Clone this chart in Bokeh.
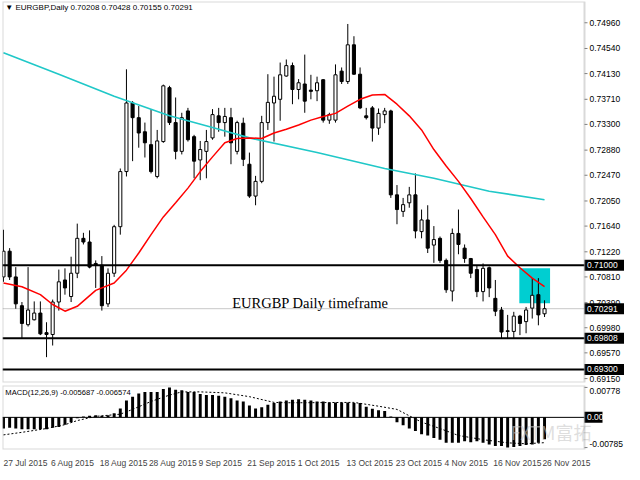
from bokeh.plotting import figure
from bokeh.models import (Range1d, FixedTicker, CustomJSTickFormatter, Label,
                          BoxAnnotation, ColumnDataSource)
from bokeh.layouts import column
from bokeh.embed import file_html
from bokeh.resources import INLINE
from bokeh.core.properties import value

# ---------------- data ----------------
opens = [0.7081, 0.7123, 0.7081, 0.7034, 0.7003, 0.7011, 0.7022, 0.6990, 0.6987, 0.7040,
         0.7076, 0.7049, 0.7087, 0.7144, 0.7138, 0.7103, 0.7100, 0.7037, 0.7087, 0.7163,
         0.7253, 0.7365, 0.7341, 0.7318, 0.7297, 0.7245, 0.7302, 0.7390, 0.7333, 0.7286,
         0.7352, 0.7310, 0.7272, 0.7286, 0.7308, 0.7344, 0.7333, 0.7341, 0.7286, 0.7332,
         0.7265, 0.7213, 0.7237, 0.7333, 0.7365, 0.7371, 0.7409, 0.7426, 0.7387, 0.7396,
         0.7386, 0.7385, 0.7403, 0.7337, 0.7337, 0.7417, 0.7400, 0.7460, 0.7412, 0.7344,
         0.7357, 0.7324, 0.7346, 0.7352, 0.7215, 0.7188, 0.7202, 0.7215, 0.7155, 0.7174,
         0.7133, 0.7144, 0.7108, 0.7058, 0.7152, 0.7128, 0.7111, 0.7093, 0.7057, 0.7096,
         0.7046, 0.7027, 0.6993, 0.6992, 0.7017, 0.7008, 0.7030, 0.7052, 0.70208]
highs = [0.7158, 0.7128, 0.7097, 0.7040, 0.7097, 0.7041, 0.7041, 0.7007, 0.7044, 0.7093,
         0.7095, 0.7114, 0.7168, 0.7153, 0.7157, 0.7108, 0.7115, 0.7095, 0.7166, 0.7258,
         0.7420, 0.7368, 0.7360, 0.7333, 0.7355, 0.7321, 0.7395, 0.7393, 0.7374, 0.7349,
         0.7357, 0.7313, 0.7303, 0.7321, 0.7355, 0.7357, 0.7357, 0.7357, 0.7336, 0.7341,
         0.7284, 0.7246, 0.7344, 0.7412, 0.7408, 0.7431, 0.7436, 0.7431, 0.7404, 0.7444,
         0.7411, 0.7408, 0.7404, 0.7349, 0.7428, 0.7423, 0.7494, 0.7474, 0.7423, 0.7357,
         0.7360, 0.7356, 0.7357, 0.7354, 0.7231, 0.7210, 0.7228, 0.7250, 0.7191, 0.7198,
         0.7164, 0.7147, 0.7111, 0.7160, 0.7191, 0.7134, 0.7112, 0.7100, 0.7103, 0.7098,
         0.7076, 0.7032, 0.7019, 0.7024, 0.7019, 0.7032, 0.7079, 0.7079, 0.70428]
lows = [0.7073, 0.7076, 0.7029, 0.6981, 0.7000, 0.7010, 0.6986, 0.6950, 0.6969, 0.7026,
        0.7052, 0.7040, 0.7079, 0.7134, 0.7095, 0.7063, 0.7026, 0.7032, 0.7081, 0.7150,
        0.7245, 0.7270, 0.7292, 0.7276, 0.7250, 0.7242, 0.7300, 0.7329, 0.7273, 0.7281,
        0.7302, 0.7242, 0.7239, 0.7242, 0.7305, 0.7318, 0.7310, 0.7265, 0.7281, 0.7262,
        0.7210, 0.7198, 0.7234, 0.7321, 0.7302, 0.7336, 0.7408, 0.7363, 0.7371, 0.7349,
        0.7371, 0.7368, 0.7333, 0.7331, 0.7333, 0.7396, 0.7396, 0.7411, 0.7355, 0.7338,
        0.7302, 0.7313, 0.7332, 0.7210, 0.7167, 0.7179, 0.7194, 0.7144, 0.7144, 0.7120,
        0.7104, 0.7104, 0.7055, 0.7041, 0.7118, 0.7104, 0.7079, 0.7048, 0.7041, 0.7048,
        0.7017, 0.6981, 0.6981, 0.6981, 0.6986, 0.6989, 0.7013, 0.7002, 0.70155]
closes = [0.7123, 0.7081, 0.7037, 0.7005, 0.7027, 0.7022, 0.6988, 0.6987, 0.7040, 0.7073,
          0.7063, 0.7087, 0.7144, 0.7138, 0.7097, 0.7100, 0.7034, 0.7087, 0.7163, 0.7253,
          0.7365, 0.7341, 0.7316, 0.7300, 0.7253, 0.7303, 0.7393, 0.7333, 0.7286, 0.7341,
          0.7305, 0.7270, 0.7289, 0.7302, 0.7346, 0.7333, 0.7343, 0.7300, 0.7333, 0.7273,
          0.7213, 0.7237, 0.7333, 0.7366, 0.7376, 0.7411, 0.7426, 0.7387, 0.7398, 0.7368,
          0.7384, 0.7398, 0.7337, 0.7346, 0.7411, 0.7400, 0.7460, 0.7412, 0.7357, 0.7341,
          0.7324, 0.7348, 0.7352, 0.7215, 0.7191, 0.7199, 0.7215, 0.7156, 0.7174, 0.7128,
          0.7142, 0.7108, 0.7060, 0.7152, 0.7134, 0.7111, 0.7087, 0.7057, 0.7095, 0.7063,
          0.7025, 0.6991, 0.6992, 0.7017, 0.7005, 0.7027, 0.7051, 0.7019, 0.70291]

date_bar_index = [0, 8, 16, 24, 32, 40, 48, 56, 64, 72, 80, 88]
date_labels = ["27 Jul 2015", "6 Aug 2015", "18 Aug 2015", "28 Aug 2015", "9 Sep 2015",
               "21 Sep 2015", "1 Oct 2015", "13 Oct 2015", "23 Oct 2015", "4 Nov 2015",
               "16 Nov 2015", "26 Nov 2015"]

# red (fast) moving average, read at selected bars
red_idx = [0, 3, 6, 8, 10, 12, 15, 18, 20, 22, 24, 26, 28, 30, 32, 34, 36, 38, 40, 42, 44,
           46, 48, 50, 52, 54, 56, 58, 60, 62, 64, 66, 68, 70, 72, 74, 76, 78, 80, 82, 84, 86, 88]
red_val = [0.7071, 0.7065, 0.7052, 0.7036, 0.7025, 0.7033, 0.7059, 0.7071, 0.7092, 0.7120,
           0.7150, 0.7179, 0.7202, 0.7226, 0.7253, 0.7277, 0.7300, 0.7307, 0.7308, 0.7307,
           0.7316, 0.7322, 0.7329, 0.7337, 0.7343, 0.7348, 0.7360, 0.7371, 0.7378, 0.7379,
           0.7363, 0.7344, 0.7321, 0.7289, 0.7262, 0.7237, 0.7209, 0.7179, 0.7150, 0.7115,
           0.7096, 0.7079, 0.7065]

# cyan (slow) moving average
cyan_idx = [0, 9, 18, 27, 34, 40, 51, 62, 70, 79, 88]
cyan_val = [0.7447, 0.7412, 0.7376, 0.7344, 0.7325, 0.7308, 0.7284, 0.7258, 0.7242, 0.7221, 0.7207]

price_ticks = [0.74960, 0.74540, 0.74130, 0.73710, 0.73300, 0.72880, 0.72470, 0.72050,
               0.71640, 0.71220, 0.70810, 0.70390, 0.69980, 0.69570, 0.69150]
level_lines = [0.71000, 0.69808, 0.69300]
bid_price = 0.70291
zone = dict(left=83.9, right=88.9, top=0.7095, bottom=0.7038)

macd_hist = [-0.00290, -0.00273, -0.00290, -0.00306, -0.00306, -0.00306, -0.00306, -0.00306,
             -0.00273, -0.00248, -0.00190, -0.00124, -0.00025, 0.00025, 0.00041, 0.00058,
             0.00041, 0.00058, 0.00108, 0.00232, 0.00438, 0.00538, 0.00620, 0.00662, 0.00662,
             0.00662, 0.00736, 0.00778, 0.00720, 0.00703, 0.00662, 0.00662, 0.00604, 0.00579,
             0.00579, 0.00562, 0.00538, 0.00496, 0.00438, 0.00414, 0.00306, 0.00232, 0.00265,
             0.00331, 0.00372, 0.00414, 0.00438, 0.00455, 0.00471, 0.00455, 0.00438, 0.00414,
             0.00414, 0.00389, 0.00389, 0.00389, 0.00389, 0.00372, 0.00372, 0.00273, 0.00223,
             0.00182, 0.00165, 0.00020, -0.00124, -0.00207, -0.00290, -0.00356, -0.00438,
             -0.00471, -0.00538, -0.00579, -0.00662, -0.00662, -0.00662, -0.00620, -0.00645,
             -0.00620, -0.00662, -0.00703, -0.00744, -0.00744, -0.00785, -0.00769, -0.00744,
             -0.00720, -0.00703, -0.00662, -0.005687]
sig_idx = [0, 3, 7, 10, 12, 15, 19, 21, 24, 27, 29, 32, 36, 40, 44, 46, 49, 53, 57, 61,
           64, 66, 68, 71, 74, 78, 82, 85, 88]
sig_val = [-0.00455, -0.00389, -0.00290, -0.00190, -0.00083, 0.00025, 0.00083, 0.00207,
           0.00414, 0.00579, 0.00662, 0.00662, 0.00637, 0.00538, 0.00389, 0.00380, 0.00380,
           0.00385, 0.00389, 0.00290, 0.00207, 0.00041, -0.00124, -0.00290, -0.00471,
           -0.00579, -0.00662, -0.00686, -0.006574]
macd_ticks = [0.00778, -0.00785]

header_text = "\u25bc EURGBP,Daily  0.70208 0.70428 0.70155 0.70291"
macd_text = "MACD(12,26,9) -0.005687 -0.006574"
note_text = "EURGBP Daily timeframe"
watermark = "FXTM\u5bcc\u62d3"

# ---------------- layout / style ----------------
FONT = "Liberation Sans"
FS = "8.5px"
CHART_W = 582                 # chart area width in px
STRIP_W = 40                  # price-scale strip width in px
FW = CHART_W + STRIP_W
X0, X1 = -0.16, 94.5          # left edge and price-scale line (bar units)
BPP = (X1 - X0) / CHART_W     # bars per pixel
XR = X1 + STRIP_W * BPP
GRAY = "#808080"
Y_MAIN = (0.69086, 0.75307)
H_MAIN = 381
Y_MACD = (-0.00835, 0.00828)
H_MACD = 64


def price_scale(fig, ticks, offsets=None):
    """Draw an MT4-like price scale to the right of X1 inside the frame."""
    fig.segment(x0=[X1] * len(ticks), x1=[X1 + 3 * BPP] * len(ticks), y0=ticks, y1=ticks,
                line_color=GRAY, line_width=1)
    fig.text(x=[X1 + 5 * BPP] * len(ticks), y=ticks, text=["%.5f" % t for t in ticks],
             text_font=value(FONT), text_font_size=FS, text_baseline="middle",
             text_align="left", text_color="black",
             y_offset=offsets if offsets is not None else 0)


def marker_boxes(fig, levels, texts, yr, h, right=XR):
    half = 5.5 * (yr[1] - yr[0]) / h
    fig.quad(left=[X1] * len(levels), right=[right] * len(levels),
             top=[v + half for v in levels], bottom=[v - half for v in levels],
             fill_color="black", line_color=None)
    fig.text(x=[X1 + 2.5 * BPP] * len(levels), y=levels, text=texts,
             text_font=value(FONT), text_font_size=FS, text_baseline="middle",
             text_align="left", text_color="white")


n = len(opens)
idx = list(range(n))
src = ColumnDataSource(dict(
    x=idx, h=highs, l=lows,
    top=[max(o, c) for o, c in zip(opens, closes)],
    bottom=[min(o, c) for o, c in zip(opens, closes)],
    fill=["white" if c >= o else "black" for o, c in zip(opens, closes)],
))

p = figure(frame_width=FW, frame_height=H_MAIN, x_range=Range1d(X0, XR),
           y_range=Range1d(*Y_MAIN), x_axis_location=None, y_axis_location=None,
           toolbar_location=None, output_backend="svg",
           min_border_left=2, min_border_top=1, min_border_bottom=1, min_border_right=0)
p.grid.visible = False
p.outline_line_color = None

p.add_layout(BoxAnnotation(left=zone["left"], right=zone["right"], top=zone["top"],
                           bottom=zone["bottom"], fill_color="#00CED1", fill_alpha=1.0,
                           line_color=None, level="underlay"))
p.segment(x0=[X0], x1=[X1], y0=[bid_price], y1=[bid_price], line_color="#c8c8c8",
          line_width=1)

p.segment(x0="x", y0="l", x1="x", y1="h", source=src, line_color="black", line_width=1)
p.vbar(x="x", width=0.5, top="top", bottom="bottom", fill_color="fill",
       line_color="black", line_width=1, source=src)
p.line(cyan_idx, cyan_val, line_color="#20c8c8", line_width=1.6)
p.line(red_idx, red_val, line_color="#ff0000", line_width=1.5)
p.segment(x0=[X0] * len(level_lines), x1=[X1] * len(level_lines), y0=level_lines,
          y1=level_lines, line_color="black", line_width=2)

p.add_layout(BoxAnnotation(left=X0, right=X1, fill_alpha=0, line_color=GRAY, line_width=2))
price_scale(p, price_ticks)
marker_boxes(p, level_lines + [bid_price], ["%.5f" % v for v in level_lines + [bid_price]],
             Y_MAIN, H_MAIN)

p.add_layout(Label(x=0.3, y=0.7521, text=header_text, text_font=FONT, text_font_size="8px",
                   text_baseline="middle", text_color="black"))
p.add_layout(Label(x=37.2, y=0.7038, text=note_text, text_font="Liberation Serif",
                   text_font_size="14.5px", text_baseline="middle", text_color="black"))

q = figure(frame_width=FW, frame_height=H_MACD, x_range=p.x_range,
           y_range=Range1d(*Y_MACD), y_axis_location=None,
           toolbar_location=None, output_backend="svg",
           min_border_left=2, min_border_top=2, min_border_bottom=0, min_border_right=0)
q.grid.visible = False
q.outline_line_color = None
q.add_layout(Label(x=82.5, y=-0.0038, text=watermark, text_font="Noto Sans CJK SC",
                   text_font_size="18px", text_baseline="middle", text_color="#c8c8c8",
                   text_alpha=0.6))
q.segment(x0=[X0], x1=[X1], y0=[0], y1=[0], line_color="black", line_width=1)
q.vbar(x=idx, top=macd_hist, bottom=0, width=0.48, fill_color="black", line_color=None)
q.line(sig_idx, sig_val, line_color="black", line_width=1, line_dash="2 2")
q.add_layout(BoxAnnotation(left=X0, right=X1, fill_alpha=0, line_color=GRAY, line_width=2))
price_scale(q, macd_ticks, offsets=[4, -4])
marker_boxes(q, [0.0], ["0.00"], Y_MACD, H_MACD, right=X1 + 18 * BPP)

date_ticks = [round(b + 0.235 * 8.5 * len(s) * BPP, 2)
              for b, s in zip(date_bar_index, date_labels)]
qx = q.xaxis[0]
qx.ticker = FixedTicker(ticks=date_ticks)
qx.formatter = CustomJSTickFormatter(args=dict(labels=date_labels),
                                     code="return labels[index] || '';")
qx.major_label_text_font = FONT
qx.major_label_text_font_size = FS
qx.axis_line_color = None
qx.major_tick_line_color = None
qx.minor_tick_line_color = None
qx.major_label_standoff = 2

q.add_layout(Label(x=0.3, y=0.0064, text=macd_text, text_font=FONT, text_font_size="7.6px",
                   text_baseline="middle", text_color="black"))

layout = column(p, q, spacing=0)
open("out.html", "w").write(file_html(layout, INLINE))
